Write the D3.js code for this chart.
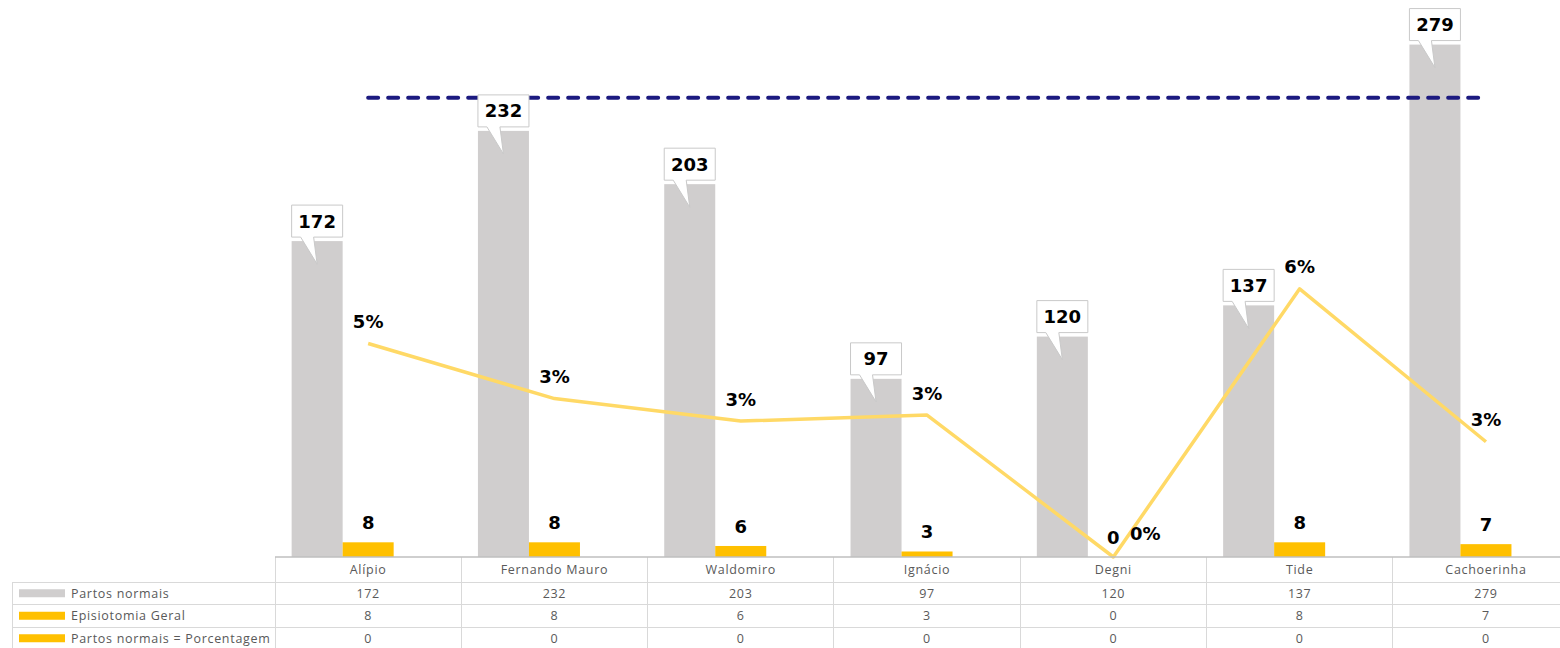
<!DOCTYPE html>
<html>
<head>
<meta charset="utf-8">
<script src="https://cdn.jsdelivr.net/npm/d3@7"></script>
<style>
  html, body { margin: 0; padding: 0; background: #fff; }
  svg { display: block; }
  .tbl { font-family: "Open Sans", sans-serif; font-size: 12.5px; fill: #595959; letter-spacing: 0.7px; }
  .lbl { font-family: "DejaVu Sans", sans-serif; font-weight: bold; font-size: 18px; fill: #000; }
</style>
</head>
<body>
<svg id="chart" width="1560" height="648"></svg>
<script>
// Units per category
const categories = ["Alípio", "Fernando Mauro", "Waldomiro", "Ignácio", "Degni", "Tide", "Cachoerinha"];
const partosNormais = [172, 232, 203, 97, 120, 137, 279];
const episiotomiaGeral = [8, 8, 6, 3, 0, 8, 7];
const partosPorcentagem = [0, 0, 0, 0, 0, 0, 0];
// Episiotomy share per unit (secondary axis)
const percentual = [0.0465, 0.0345, 0.0296, 0.0309, 0, 0.0584, 0.0251];
// Reference goal line (primary axis)
const meta = [250, 250, 250, 250, 250, 250, 250];

const seriesNames = ["Partos normais", "Episiotomia Geral", "Partos normais = Porcentagem"];
const seriesValues = [partosNormais, episiotomiaGeral, partosPorcentagem];
const seriesColors = ["#D0CECE", "#FFC000", "#FFC000"];

const svg = d3.select("#chart");

const plotLeft = 275, colW = 186.3;
const baseY = 557, topY = 6;

const x = d3.scaleBand().domain(categories).range([plotLeft, plotLeft + colW * categories.length]).padding(0);
const sub = d3.scaleBand().domain(seriesNames).range([0, x.bandwidth()]).paddingInner(0).paddingOuter(0.326);
const y = d3.scaleLinear().domain([0, 300]).range([baseY, topY]);
const y2 = d3.scaleLinear().domain([0, 0.12]).range([baseY, topY]);

const rows = categories.map((c, i) => ({ cat: c, i }));

// Bars
seriesNames.forEach((s, si) => {
  svg.append("g").selectAll("rect")
    .data(rows)
    .join("rect")
    .attr("x", d => x(d.cat) + sub(s))
    .attr("width", sub.bandwidth())
    .attr("y", d => y(seriesValues[si][d.i]))
    .attr("height", d => baseY - y(seriesValues[si][d.i]))
    .attr("fill", seriesColors[si]);
});

// Goal line
const metaLine = d3.line()
  .x(d => x(d.cat) + x.bandwidth() / 2)
  .y(d => y(meta[d.i]));
svg.append("path")
  .datum(rows)
  .attr("d", metaLine)
  .attr("fill", "none")
  .attr("stroke", "#1C1A80")
  .attr("stroke-width", 4)
  .attr("stroke-linecap", "round")
  .attr("stroke-dasharray", "10,10");

// Percentage line
const pctLine = d3.line()
  .x(d => x(d.cat) + x.bandwidth() / 2)
  .y(d => y2(percentual[d.i]));
svg.append("path")
  .datum(rows)
  .attr("d", pctLine)
  .attr("fill", "none")
  .attr("stroke", "#FFD966")
  .attr("stroke-width", 3.5)
  .attr("stroke-linejoin", "round");

// Callout labels for "Partos normais"
const callouts = svg.append("g");
rows.forEach(d => {
  const bx = x(d.cat) + sub(seriesNames[0]);
  const bw = sub.bandwidth();
  const top = y(partosNormais[d.i]);
  const boxTop = top - 36, boxBot = top - 4;
  const cx = bx + bw / 2;
  const g = callouts.append("g");
  g.append("path")
    .attr("d", `M${bx},${boxTop} H${bx + bw} V${boxBot} H${bx + 22} L${cx},${top + 23} L${bx + 9},${boxBot} H${bx} Z`)
    .attr("fill", "#fff")
    .attr("stroke", "#C9C9C9")
    .attr("stroke-width", 1);
  g.append("text")
    .attr("class", "lbl")
    .attr("x", cx)
    .attr("y", (boxTop + boxBot) / 2 + 6.5)
    .attr("text-anchor", "middle")
    .text(partosNormais[d.i]);
});

// Labels for "Episiotomia Geral"
svg.append("g").selectAll("text")
  .data(rows)
  .join("text")
  .attr("class", "lbl")
  .attr("x", d => x(d.cat) + sub(seriesNames[1]) + sub.bandwidth() / 2)
  .attr("y", d => y(episiotomiaGeral[d.i]) - 13)
  .attr("text-anchor", "middle")
  .text(d => episiotomiaGeral[d.i]);

// Percentage labels
const fmtPct = d3.format(".0%");
svg.append("g").selectAll("text")
  .data(rows)
  .join("text")
  .attr("class", "lbl")
  .attr("x", d => x(d.cat) + x.bandwidth() / 2 + (percentual[d.i] === 0 ? 32 : 0))
  .attr("y", d => y2(percentual[d.i]) - (percentual[d.i] === 0 ? 17.5 : 15.5))
  .attr("text-anchor", "middle")
  .text(d => fmtPct(percentual[d.i]));

// Data table below the plot
const tableLeft = 12, tableRight = 1580;
const rowLines = [582, 604.5, 627, 649.5];
const grid = svg.append("g").attr("stroke", "#D9D9D9").attr("stroke-width", 1).attr("shape-rendering", "crispEdges");
rowLines.forEach(ly => {
  grid.append("line").attr("x1", tableLeft).attr("x2", tableRight).attr("y1", ly).attr("y2", ly);
});
grid.append("line").attr("x1", tableLeft).attr("x2", tableLeft).attr("y1", rowLines[0]).attr("y2", 649.5);
d3.range(categories.length + 1).forEach(k => {
  const lx = plotLeft + k * colW;
  grid.append("line").attr("x1", lx).attr("x2", lx).attr("y1", baseY).attr("y2", 649.5);
});

// Category axis line
svg.append("line")
  .attr("x1", plotLeft).attr("x2", tableRight)
  .attr("y1", baseY).attr("y2", baseY)
  .attr("stroke", "#BFBFBF").attr("stroke-width", 1.5);

// Header row (category names)
svg.append("g").selectAll("text")
  .data(rows)
  .join("text")
  .attr("class", "tbl")
  .attr("x", d => x(d.cat) + x.bandwidth() / 2)
  .attr("y", (baseY + rowLines[0]) / 2 + 4.5)
  .attr("text-anchor", "middle")
  .text(d => d.cat);

// Value rows with legend keys
seriesNames.forEach((s, si) => {
  const rTop = rowLines[si], rBot = rowLines[si + 1];
  const mid = (rTop + rBot) / 2;
  svg.append("rect")
    .attr("x", 19).attr("y", mid - 4)
    .attr("width", 46).attr("height", 8)
    .attr("fill", seriesColors[si]);
  svg.append("text")
    .attr("class", "tbl")
    .attr("x", 71).attr("y", mid + 4.5)
    .text(s);
  svg.append("g").selectAll("text")
    .data(rows)
    .join("text")
    .attr("class", "tbl")
    .attr("x", d => x(d.cat) + x.bandwidth() / 2)
    .attr("y", mid + 4.5)
    .attr("text-anchor", "middle")
    .text(d => seriesValues[si][d.i]);
});
</script>
</body>
</html>
